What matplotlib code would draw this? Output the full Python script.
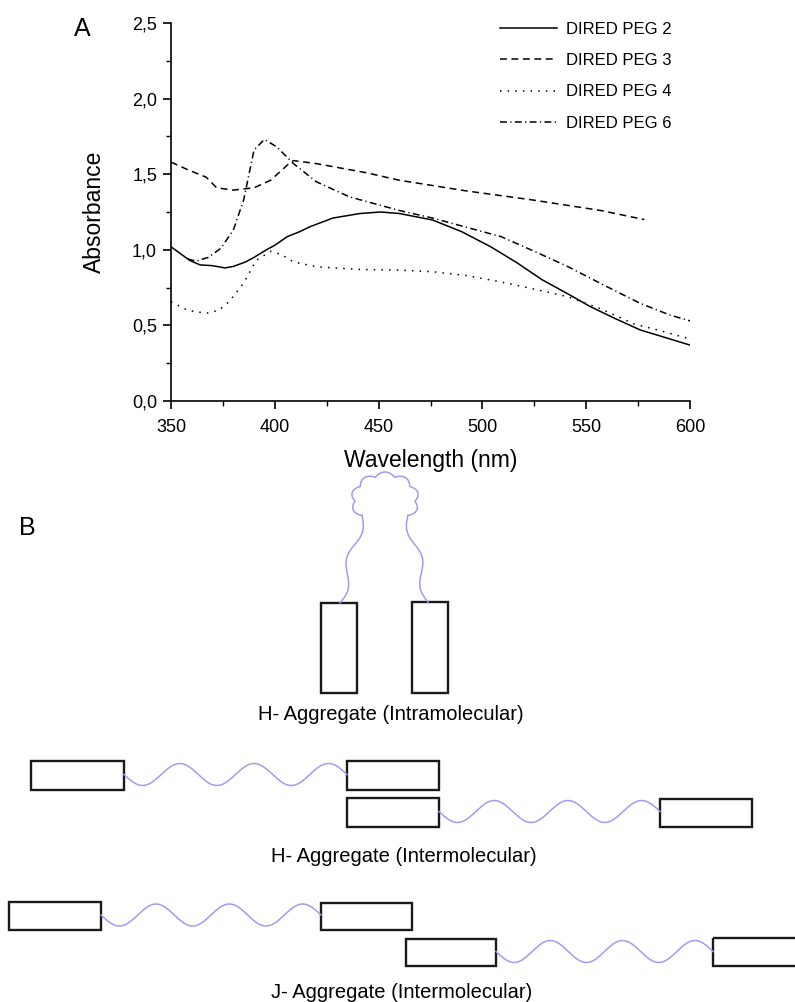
import numpy as np
import matplotlib.pyplot as plt
from matplotlib.patches import Rectangle
from matplotlib.ticker import MultipleLocator, FuncFormatter

plt.rcParams['font.family'] = ['Liberation Sans', 'DejaVu Sans']

# absorbance spectra
wl_peg2 = [350, 354, 359, 364, 370, 376, 380, 386, 390, 396, 400, 406, 412, 417, 428, 441, 451,
           460, 476, 490, 504, 516, 529, 541, 552, 564, 576, 588, 600]
abs_peg2 = [1.02, 0.98, 0.93, 0.90, 0.895, 0.88, 0.89, 0.92, 0.95, 1.00, 1.03, 1.087, 1.12, 1.153,
            1.21, 1.24, 1.25, 1.24, 1.197, 1.12, 1.02, 0.92, 0.80, 0.71, 0.624, 0.545, 0.47, 0.42, 0.37]

wl_peg3 = [350, 358, 367, 372, 380, 390, 398, 406, 409, 420, 444, 460, 492, 524, 557, 578]
abs_peg3 = [1.58, 1.53, 1.48, 1.41, 1.395, 1.41, 1.46, 1.56, 1.59, 1.57, 1.51, 1.46, 1.39, 1.33,
            1.26, 1.20]

wl_peg4 = [350, 358, 367, 373, 378, 385, 391, 398, 403, 409, 420, 440, 460, 476, 492, 508, 525,
           541, 557, 573, 587, 600]
abs_peg4 = [0.657, 0.60, 0.58, 0.60, 0.657, 0.78, 0.93, 0.99, 0.97, 0.92, 0.888, 0.87, 0.866,
            0.855, 0.83, 0.79, 0.74, 0.69, 0.61, 0.51, 0.46, 0.41]

wl_peg6 = [358, 362, 368, 374, 380, 385, 390, 395, 401, 409, 420, 436, 460, 476, 492, 509, 525,
           541, 558, 576, 590, 600]
abs_peg6 = [0.94, 0.925, 0.95, 1.01, 1.13, 1.33, 1.66, 1.73, 1.68, 1.57, 1.45, 1.35, 1.26, 1.21,
            1.15, 1.087, 0.99, 0.89, 0.77, 0.646, 0.57, 0.53]

labels = ["DIRED PEG 2", "DIRED PEG 3", "DIRED PEG 4", "DIRED PEG 6"]

# sketch of panel B, in pixel units of the figure (x, y_top, w, h)
intra_boxes = [(321, 603, 36, 90), (412, 602, 36, 91)]
h_inter_boxes = [(31, 761, 93, 29), (347, 761, 92, 29), (347, 798, 92, 29), (660, 799, 92, 28)]
j_inter_boxes = [(9, 902, 92, 28), (321, 903, 91, 27), (406, 939, 90, 27), (713, 938, 92, 28)]
sketch_titles = ["H- Aggregate (Intramolecular)", "H- Aggregate (Intermolecular)",
                 "J- Aggregate (Intermolecular)"]

W, H = 795, 1002
fig = plt.figure(figsize=(W / 100, H / 100), dpi=100)

sk = fig.add_axes([0, 0, 1, 1])
sk.set_xlim(0, W)
sk.set_ylim(H, 0)
sk.axis('off')

ax = fig.add_axes([171 / W, 1 - 401 / H, 519 / W, 378 / H])
lw = 1.1
ax.plot(wl_peg2, abs_peg2, color='black', lw=lw, ls='-', label=labels[0])
ax.plot(wl_peg3, abs_peg3, color='black', lw=lw, ls=(0, (4.5, 3)), label=labels[1])
ax.plot(wl_peg4, abs_peg4, color='black', lw=lw, ls=(0, (1, 4)), label=labels[2])
ax.plot(wl_peg6, abs_peg6, color='black', lw=lw, ls=(0, (4.5, 2.2, 0.8, 2.2)), label=labels[3])

ax.set_xlim(350, 600)
ax.set_ylim(0, 2.5)
ax.xaxis.set_major_locator(MultipleLocator(50))
ax.xaxis.set_minor_locator(MultipleLocator(25))
ax.yaxis.set_major_locator(MultipleLocator(0.5))
ax.yaxis.set_minor_locator(MultipleLocator(0.25))
ax.yaxis.set_major_formatter(FuncFormatter(lambda v, p: f"{v:.1f}".replace('.', ',')))
for s in ['top', 'right']:
    ax.spines[s].set_visible(False)
for s in ['left', 'bottom']:
    ax.spines[s].set_linewidth(1.2)
ax.tick_params(which='major', direction='out', length=6, width=1.2, labelsize=13, pad=4)
ax.tick_params(which='minor', direction='out', length=3.5, width=1.0)
ax.tick_params(axis='x', which='major', pad=7)
ax.set_xlabel("Wavelength (nm)", fontsize=16.5)
ax.set_ylabel("Absorbance", fontsize=16.5)
ax.xaxis.set_label_coords(0.5, -(449 - 401) / 378)
ax.yaxis.set_label_coords(-(171 - 106) / 519, 0.5)
ax.patch.set_alpha(0)

ax.legend(loc='upper left', bbox_to_anchor=(500 / W, 1 - 22 / H), bbox_transform=fig.transFigure,
          frameon=False, fontsize=12, handlelength=3.4, handletextpad=0.55, labelspacing=0.97,
          borderpad=0, borderaxespad=0)

fig.text(82 / W, 1 - 29 / H, "A", fontsize=18, ha='center', va='center')
sk.text(27, 528, "B", fontsize=18, ha='center', va='center')

wave_col = '#9d9df2'
box_kw = dict(fill=False, ec='#1a1a1a', lw=1.7)


def wave(x0, x1, yc, amp=11, n=3):
    x = np.linspace(x0, x1, 200)
    sk.plot(x, yc + amp * np.sin(2 * np.pi * n * (x - x0) / (x1 - x0)), color=wave_col, lw=1.1)


def strand(p0, p1, amp=4.5, n=1.5):
    t = np.linspace(0, 1, 100)
    p0, p1 = np.array(p0), np.array(p1)
    d = p1 - p0
    nrm = np.array([-d[1], d[0]]) / np.hypot(*d)
    pts = p0[None, :] + t[:, None] * d[None, :] + (amp * np.sin(2 * np.pi * n * t))[:, None] * nrm
    sk.plot(pts[:, 0], pts[:, 1], color=wave_col, lw=1.1)


for bx in intra_boxes + h_inter_boxes + j_inter_boxes:
    sk.add_patch(Rectangle((bx[0], bx[1]), bx[2], bx[3], **box_kw))

# intramolecular loop: two wiggly strands joined by a scalloped head
cx, cy, rx, ry = 385, 500, 30, 24
a0, a1 = np.radians(220), np.radians(-40)
th = np.linspace(a0, a1, 400)
bump = 4 * np.abs(np.sin(np.linspace(0, 7 * np.pi, th.size)))
sk.plot(cx + (rx + bump) * np.cos(th), cy - (ry + bump) * np.sin(th), color=wave_col, lw=1.1)
strand((intra_boxes[0][0] + 19, intra_boxes[0][1]), (cx + rx * np.cos(a0), cy - ry * np.sin(a0)))
strand((intra_boxes[1][0] + 16, intra_boxes[1][1]), (cx + rx * np.cos(a1), cy - ry * np.sin(a1)),
       amp=-4.5)

for rows in (h_inter_boxes, j_inter_boxes):
    for a, b in ((rows[0], rows[1]), (rows[2], rows[3])):
        wave(a[0] + a[2], b[0], a[1] + a[3] / 2 - 1)

sk.text(391, 714, sketch_titles[0], fontsize=14.5, ha='center', va='center')
sk.text(404, 856, sketch_titles[1], fontsize=14.5, ha='center', va='center')
sk.text(402, 992, sketch_titles[2], fontsize=14.5, ha='center', va='center')

fig.savefig('out.png', dpi=100)
